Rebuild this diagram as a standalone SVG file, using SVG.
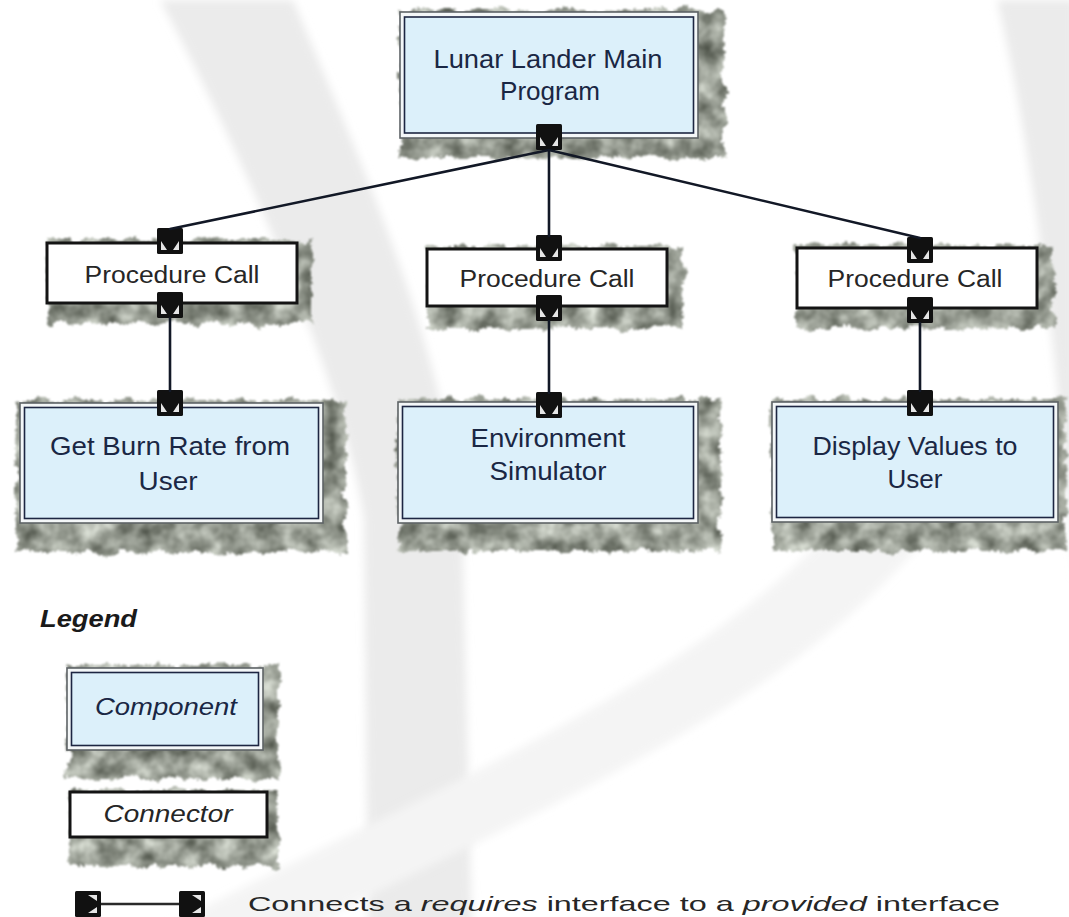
<svg xmlns="http://www.w3.org/2000/svg" xmlns:xlink="http://www.w3.org/1999/xlink" width="1069" height="917" viewBox="0 0 1069 917">
  <defs>
    <style>
      .comp-outer { fill: #f4f7f8; stroke: #5e6366; stroke-width: 1.6; }
      .comp-inner { fill: #dcf0fa; stroke: #1d2642; stroke-width: 1.6; }
      .conn-box { fill: #ffffff; stroke: #141414; stroke-width: 3; }
      .shadow { fill: #000; filter: url(#fuzz); }
      .ctext { font-family: "Liberation Sans", Arial, sans-serif; font-size: 25px; fill: #1a2744; text-anchor: middle; }
      .ptext { font-family: "Liberation Sans", Arial, sans-serif; font-size: 23px; fill: #262626; text-anchor: middle; }
      .itext { font-family: "Liberation Sans", Arial, sans-serif; font-size: 23px; font-style: italic; text-anchor: middle; }
      .wire { stroke: #121826; stroke-width: 2.6; fill: none; stroke-linecap: round; }
      .band { fill: #ebebeb; filter: url(#soft); }
      .band-faint { fill: #f4f4f4; filter: url(#soft); }
    </style>
    <!-- soft, cloudy drop shadow with ragged edges -->
    <filter id="fuzz" x="-20%" y="-40%" width="140%" height="180%" color-interpolation-filters="sRGB">
      <feTurbulence type="fractalNoise" baseFrequency="0.06" numOctaves="2" seed="4" result="warp"/>
      <feDisplacementMap in="SourceGraphic" in2="warp" scale="14" xChannelSelector="R" yChannelSelector="G" result="shape1"/>
      <feTurbulence type="fractalNoise" baseFrequency="0.35" numOctaves="1" seed="8" result="warp2"/>
      <feDisplacementMap in="shape1" in2="warp2" scale="6" xChannelSelector="R" yChannelSelector="G" result="shape"/>
      <feTurbulence type="fractalNoise" baseFrequency="0.05" numOctaves="3" seed="11" result="grain"/>
      <feColorMatrix in="grain" type="matrix" values="0.75 0 0 0 0.22  0.75 0 0 0 0.24  0.75 0 0 0 0.20  0 0 0 0 1" result="tint"/>
      <feComposite in="tint" in2="shape" operator="in" result="tex"/>
      <feGaussianBlur in="tex" stdDeviation="1.2"/>
    </filter>
    <filter id="soft" x="-20%" y="-20%" width="140%" height="140%">
      <feGaussianBlur stdDeviation="4"/>
    </filter>
    <!-- interface port: black square with two notches on its open side -->
    <g id="port">
      <rect x="0" y="0" width="26" height="26" rx="1.5" fill="#111"/>
      <path d="M4,13 L4,22 L10,22 Z M22,13 L22,22 L16,22 Z" fill="#e6e6e6"/>
    </g>
  </defs>

  <rect x="0" y="0" width="1069" height="917" fill="#ffffff"/>

  <!-- background swooshes -->
  <g id="background">
    <path class="band" d="M160,0 L293,0 C 355,150 440,330 462,520 L472,930 L368,930 L364,520 C 345,380 235,140 160,0 Z"/>
    <path class="band-faint" d="M840,520 L940,520 C 800,700 560,800 300,930 L160,930 C 450,780 700,680 840,520 Z"/>
    <path class="band" d="M997,0 L1075,0 L1075,580 C 1062,420 1040,180 997,0 Z"/>
  </g>

  <!-- components and connectors -->
  <g id="main-program">
    <rect class="shadow" x="400" y="10" width="324" height="148"/>
    <rect class="comp-outer" x="400" y="12" width="298" height="126"/>
    <rect class="comp-inner" x="404.5" y="17" width="289" height="116"/>
    <text class="ctext" x="548" y="68" textLength="229" lengthAdjust="spacingAndGlyphs">Lunar Lander Main</text>
    <text class="ctext" x="550" y="100" textLength="100" lengthAdjust="spacingAndGlyphs">Program</text>
    <use xlink:href="#port" x="536" y="124"/>
  </g>

  <g id="call-left">
    <rect class="shadow" x="47" y="240" width="264" height="84"/>
    <rect class="conn-box" x="47" y="243" width="250" height="60"/>
    <text class="ptext" x="172" y="283" textLength="175" lengthAdjust="spacingAndGlyphs">Procedure Call</text>
    <use xlink:href="#port" x="157" y="228"/>
    <use xlink:href="#port" x="157" y="292"/>
  </g>

  <g id="call-middle">
    <rect class="shadow" x="427" y="246" width="256" height="82"/>
    <rect class="conn-box" x="427" y="249" width="240" height="57"/>
    <text class="ptext" x="547" y="287" textLength="175" lengthAdjust="spacingAndGlyphs">Procedure Call</text>
    <use xlink:href="#port" x="536" y="235"/>
    <use xlink:href="#port" x="536" y="295"/>
  </g>

  <g id="call-right">
    <rect class="shadow" x="797" y="245" width="256" height="84"/>
    <rect class="conn-box" x="797" y="248" width="240" height="60"/>
    <text class="ptext" x="915" y="287" textLength="175" lengthAdjust="spacingAndGlyphs">Procedure Call</text>
    <use xlink:href="#port" x="907" y="237"/>
    <use xlink:href="#port" x="907" y="297"/>
  </g>

  <g id="get-burn-rate">
    <rect class="shadow" x="16" y="400" width="330" height="152"/>
    <rect class="comp-outer" x="20" y="403" width="303" height="120"/>
    <rect class="comp-inner" x="24.5" y="407.5" width="294" height="111"/>
    <text class="ctext" x="170" y="455" textLength="240" lengthAdjust="spacingAndGlyphs">Get Burn Rate from</text>
    <text class="ctext" x="168" y="490" textLength="59" lengthAdjust="spacingAndGlyphs">User</text>
    <use xlink:href="#port" x="157" y="390"/>
  </g>

  <g id="environment-simulator">
    <rect class="shadow" x="398" y="399" width="322" height="152"/>
    <rect class="comp-outer" x="398" y="402" width="300" height="121"/>
    <rect class="comp-inner" x="402.5" y="406.5" width="291" height="112"/>
    <text class="ctext" x="548" y="447" textLength="155" lengthAdjust="spacingAndGlyphs">Environment</text>
    <text class="ctext" x="548" y="480" textLength="117" lengthAdjust="spacingAndGlyphs">Simulator</text>
    <use xlink:href="#port" x="536" y="392"/>
  </g>

  <g id="display-values">
    <rect class="shadow" x="772" y="399" width="294" height="152"/>
    <rect class="comp-outer" x="772" y="402" width="286" height="120"/>
    <rect class="comp-inner" x="776.5" y="406.5" width="277" height="111"/>
    <text class="ctext" x="915" y="455" textLength="205" lengthAdjust="spacingAndGlyphs">Display Values to</text>
    <text class="ctext" x="915" y="488" textLength="55" lengthAdjust="spacingAndGlyphs">User</text>
    <use xlink:href="#port" x="907" y="390"/>
  </g>

  <!-- legend -->
  <g id="legend">
    <text x="40" y="627" font-family="Liberation Sans, Arial, sans-serif" font-size="23" font-weight="bold" font-style="italic" fill="#1a1a1a" textLength="97" lengthAdjust="spacingAndGlyphs">Legend</text>
  </g>

  <g id="legend-component">
    <rect class="shadow" x="67" y="665" width="212" height="114"/>
    <rect class="comp-outer" x="67" y="668" width="196" height="82"/>
    <rect class="comp-inner" x="71.5" y="672.5" width="187" height="73"/>
    <text class="itext" x="166" y="715" fill="#1a2744" textLength="142" lengthAdjust="spacingAndGlyphs">Component</text>
  </g>

  <g id="legend-connector">
    <rect class="shadow" x="70" y="790" width="208" height="76"/>
    <rect class="conn-box" x="70" y="792" width="197" height="45"/>
    <text class="itext" x="168" y="822" fill="#262626" textLength="129" lengthAdjust="spacingAndGlyphs">Connector</text>
  </g>

  <g id="legend-link">
    <line x1="100" y1="904" x2="179" y2="904" stroke="#2a2a2a" stroke-width="2.6"/>
    <use xlink:href="#port" transform="translate(75,917) rotate(-90)"/>
    <use xlink:href="#port" transform="translate(179,917) rotate(-90)"/>
    <text x="248" y="911" font-family="Liberation Sans, Arial, sans-serif" font-size="21" fill="#262626" textLength="752" lengthAdjust="spacingAndGlyphs">Connects a <tspan font-style="italic">requires</tspan> interface to a <tspan font-style="italic">provided</tspan> interface</text>
  </g>

  <!-- links between ports -->
  <g id="connectors">
    <line class="wire" x1="549" y1="150" x2="170" y2="229"/>
    <line class="wire" x1="549" y1="150" x2="549" y2="236"/>
    <line class="wire" x1="549" y1="150" x2="920" y2="238"/>
    <line class="wire" x1="170" y1="318" x2="170" y2="391"/>
    <line class="wire" x1="549" y1="321" x2="549" y2="393"/>
    <line class="wire" x1="920" y1="323" x2="920" y2="391"/>
  </g>
</svg>
